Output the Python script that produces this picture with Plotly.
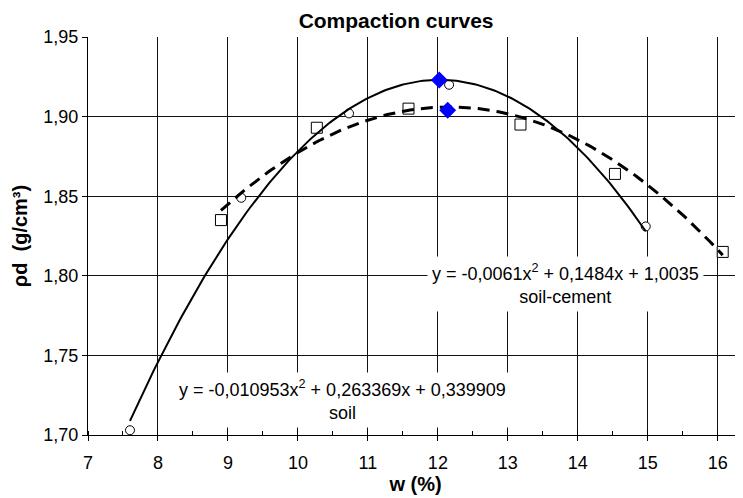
import numpy as np
import plotly.graph_objects as go

# ---- data ----
soil_w = [7.60, 9.19, 10.73, 12.16, 14.97]
soil_rho = [1.703, 1.849, 1.902, 1.920, 1.831]

cement_w = [8.90, 10.27, 11.58, 13.18, 14.53, 16.07]
cement_rho = [1.835, 1.893, 1.905, 1.895, 1.864, 1.815]

max_w = [12.02, 12.14]
max_rho = [1.923, 1.904]

# trendline coefficients shown on the chart (a, b, c of y = a x^2 + b x + c)
soil_coef = [-0.010953, 0.263369, 0.339909]
cement_coef = [-0.0061, 0.1484, 1.0035]

soil_label = "y = -0,010953x<sup>2</sup> + 0,263369x + 0,339909<br>soil"
cement_label = "y = -0,0061x<sup>2</sup> + 0,1484x + 1,0035<br>soil-cement"

x_ticks = [7, 8, 9, 10, 11, 12, 13, 14, 15, 16]
y_ticks = [1.70, 1.75, 1.80, 1.85, 1.90, 1.95]

FONT = "Liberation Sans, Arial, sans-serif"

soil_x = np.linspace(min(soil_w), max(soil_w), 200)
soil_y = np.polyval(soil_coef, soil_x)
cem_x = np.linspace(min(cement_w), max(cement_w), 200)
cem_y = np.polyval(cement_coef, cem_x)

fig = go.Figure()
fig.add_trace(go.Scatter(x=soil_w, y=soil_rho, mode="markers",
                         marker=dict(symbol="circle", size=9, color="white",
                                     line=dict(color="black", width=1)),
                         showlegend=False))
fig.add_trace(go.Scatter(x=cement_w, y=cement_rho, mode="markers",
                         marker=dict(symbol="square", size=11, color="white",
                                     line=dict(color="black", width=1)),
                         showlegend=False))
fig.add_trace(go.Scatter(x=soil_x, y=soil_y, mode="lines",
                         line=dict(color="black", width=2), showlegend=False))
fig.add_trace(go.Scatter(x=cem_x, y=cem_y, mode="lines",
                         line=dict(color="black", width=3, dash="12px,7px"),
                         showlegend=False))
fig.add_trace(go.Scatter(x=max_w, y=max_rho, mode="markers",
                         marker=dict(symbol="diamond", size=13, color="#0000FF",
                                     line=dict(color="#0000FF", width=0)),
                         showlegend=False))

fig.add_annotation(x=10.63, y=1.722, xref="x", yref="y", text=soil_label,
                   showarrow=False, bgcolor="white", borderpad=4,
                   font=dict(family=FONT, size=18, color="black"), align="center")
fig.add_annotation(x=13.83, y=1.7948, xref="x", yref="y", text=cement_label,
                   showarrow=False, bgcolor="white", borderpad=4,
                   font=dict(family=FONT, size=18, color="black"), align="center")

# the page body adds an 8px offset, so the figure is drawn 8px smaller
fig.update_layout(
    width=735, height=490,
    margin=dict(l=80, r=0, t=29, b=63),
    paper_bgcolor="white", plot_bgcolor="white",
    separators=",.",
    font=dict(family=FONT, size=18, color="black"),
    title=dict(text="<b>Compaction curves</b>", x=0.528, xref="container",
               xanchor="center", y=0.975, yref="container", yanchor="middle",
               font=dict(family=FONT, size=21, color="black")),
    xaxis=dict(range=[7, 16.36], tickvals=x_ticks, showgrid=True,
               gridcolor="#111111", gridwidth=1.2, zeroline=False,
               showline=True, linecolor="black", linewidth=1,
               ticks="outside", ticklen=5, tickcolor="black", ticklabelstandoff=6,
               minor=dict(dtick=0.5, ticks="inside", ticklen=4, tickcolor="black",
                          showgrid=False),
               tickfont=dict(family=FONT, size=18, color="black"),
               title=dict(text="<b>w (%)</b>", standoff=0,
                          font=dict(family=FONT, size=20, color="black"))),
    yaxis=dict(range=[1.70, 1.95], tickvals=y_ticks, tickformat=".2f",
               showgrid=True, gridcolor="#111111", gridwidth=1.2, zeroline=False,
               showline=True, linecolor="black", linewidth=1,
               ticks="outside", ticklen=5, tickcolor="black",
               tickfont=dict(family=FONT, size=18, color="black"),
               title=dict(text="<b>ρd  (g/cm³)</b>", standoff=10,
                          font=dict(family=FONT, size=20, color="black"))),
)

fig.write_html("out.html")
